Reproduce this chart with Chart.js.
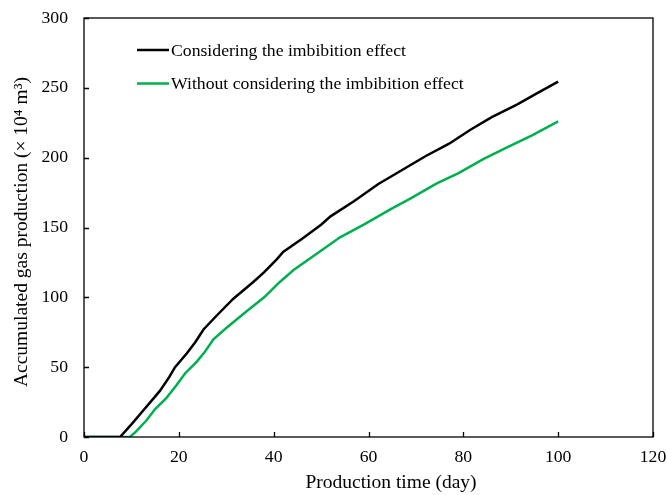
<!DOCTYPE html>
<html>
<head>
<meta charset="utf-8">
<script src="https://cdn.jsdelivr.net/npm/chart.js@4"></script>
<style>
  html, body { margin: 0; padding: 0; background: #fff; }
  #wrap { width: 667px; height: 495px; }
</style>
</head>
<body>
<div id="wrap"><canvas id="c" width="667" height="495"></canvas></div>
<script>
// Production time (day) and cumulative gas (10^4 m^3)
const daysWith = [0, 7.6, 10, 12, 14, 16, 18, 19.2, 21.7, 23.5, 25.2, 28, 31.5, 35.7, 38, 40.6, 42, 46, 50, 52, 57, 62, 67, 72, 77, 81.5, 86, 91.3, 95.5, 100];
const gasWith  = [0, 0, 9, 17, 25, 33, 43, 50, 60, 68, 77, 87, 99, 111, 118, 127, 132.5, 142, 152, 158, 169, 181, 191, 201, 210, 220, 229, 238, 246, 254.5];

const daysWithout = [0, 9.7, 11, 13.2, 15, 17.4, 19.5, 21.3, 23.8, 25.5, 27.3, 30, 34.3, 38, 41.3, 44.2, 49, 54, 59, 64.6, 69, 74.4, 79, 84.2, 89, 94.5, 100];
const gasWithout  = [0, 0, 4, 12, 20, 28, 37, 45.5, 54, 61, 70, 78, 90, 100, 111, 119.5, 131, 143, 152, 163, 171, 181.6, 189, 199, 207, 216, 226];

const seriesLabels = ['Considering the imbibition effect', 'Without considering the imbibition effect'];
const xTicks = [0, 20, 40, 60, 80, 100, 120];
const yTicks = [0, 50, 100, 150, 200, 250, 300];
const xTitle = 'Production time (day)';
const yTitle = 'Accumulated gas production (× 10⁴ m³)';

const FONT = "'Liberation Serif', 'Times New Roman', serif";
const toPts = (xs, ys) => xs.map((x, i) => ({ x: x, y: ys[i] }));

// Frame around the plot, inward tick marks, axis titles and an in-plot legend
const framePlugin = {
  id: 'frame',
  afterDatasetsDraw(chart) {
    const { ctx, chartArea: a, scales } = chart;
    ctx.save();
    ctx.strokeStyle = '#000';
    ctx.lineWidth = 1.3;
    ctx.strokeRect(a.left, a.top, a.right - a.left, a.bottom - a.top);
    ctx.beginPath();
    xTicks.forEach(v => {
      const px = Math.round(scales.x.getPixelForValue(v)) + 0.5;
      ctx.moveTo(px, a.bottom); ctx.lineTo(px, a.bottom - 5);
    });
    yTicks.forEach(v => {
      const py = Math.round(scales.y.getPixelForValue(v)) + 0.5;
      ctx.moveTo(a.left, py); ctx.lineTo(a.left + 5, py);
    });
    ctx.stroke();

    // axis titles
    ctx.fillStyle = '#000';
    ctx.font = '19.5px ' + FONT;
    ctx.textAlign = 'center';
    ctx.textBaseline = 'middle';
    ctx.fillText(xTitle, 391, 483);
    ctx.save();
    ctx.translate(22, 232);
    ctx.rotate(-Math.PI / 2);
    ctx.fillText(yTitle, 0, 0);
    ctx.restore();

    // legend
    ctx.font = '17.7px ' + FONT;
    ctx.textAlign = 'left';
    ctx.textBaseline = 'middle';
    chart.data.datasets.forEach((ds, i) => {
      const y = 50 + i * 33.5;
      ctx.strokeStyle = ds.borderColor;
      ctx.lineWidth = 2.5;
      ctx.beginPath();
      ctx.moveTo(137, y); ctx.lineTo(169, y);
      ctx.stroke();
      ctx.fillText(ds.label, 171, y + 1);
    });
    ctx.restore();
  }
};

new Chart(document.getElementById('c'), {
  type: 'line',
  data: {
    datasets: [
      { label: seriesLabels[0], data: toPts(daysWith, gasWith), borderColor: '#000000', borderWidth: 2.5, pointRadius: 0, tension: 0, fill: false },
      { label: seriesLabels[1], data: toPts(daysWithout, gasWithout), borderColor: '#00B050', borderWidth: 2.5, pointRadius: 0, tension: 0, fill: false }
    ]
  },
  options: {
    responsive: false,
    animation: false,
    layout: { padding: { top: 18, right: 14, left: 0, bottom: 0 } },
    plugins: { legend: { display: false }, tooltip: { enabled: false } },
    scales: {
      x: {
        type: 'linear', min: 0, max: 120,
        afterBuildTicks: s => { s.ticks = xTicks.map(v => ({ value: v })); },
        afterFit: s => { s.height = 58; s.paddingLeft = 0; s.paddingRight = 0; },
        grid: { display: false, drawTicks: false },
        border: { display: false },
        ticks: { color: '#000', font: { family: FONT, size: 17.7 }, padding: 10, maxRotation: 0 },
        title: { display: false }
      },
      y: {
        type: 'linear', min: 0, max: 300,
        afterBuildTicks: s => { s.ticks = yTicks.map(v => ({ value: v })); },
        afterFit: s => { s.width = 84; s.paddingTop = 0; s.paddingBottom = 0; },
        grid: { display: false, drawTicks: false },
        border: { display: false },
        ticks: { color: '#000', font: { family: FONT, size: 17.7 }, padding: 16 },
        title: { display: false }
      }
    }
  },
  plugins: [framePlugin]
});
</script>
</body>
</html>
